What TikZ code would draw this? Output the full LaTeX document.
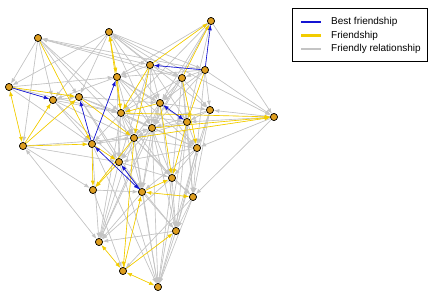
\documentclass[tikz,border=0pt]{standalone}
\usepackage{fontspec}
\setmainfont{Liberation Sans}
\usepackage{xcolor}
\usetikzlibrary{arrows.meta}
\definecolor{bestblue}{HTML}{1414D2}
\definecolor{friendgold}{HTML}{F2CC00}
\definecolor{looseGray}{HTML}{C4C4C4}
\definecolor{pin}{HTML}{DE9E1F}
\tikzset{
  person/.style={circle,fill=pin,draw=black,line width=.6pt,minimum size=7pt,inner sep=0pt},
  tie/.style={line width=.65pt,-{Latex[length=5.5pt,width=4pt]}},
  mutual/.style={line width=.65pt,{Latex[length=5.5pt,width=4pt]}-{Latex[length=5.5pt,width=4pt]}},
  swatch/.style={minimum width=20pt,minimum height=1.6pt,inner sep=0pt,anchor=west},
  legtext/.style={anchor=west,inner sep=0pt,font=\fontsize{10}{12}\selectfont}
}
\begin{document}
\begin{tikzpicture}[x=1pt,y=-1pt]
\useasboundingbox (0,0) rectangle (437,300);
% people
\node[person] (p1) at (38,38) {};
\node[person] (p2) at (109,32) {};
\node[person] (p3) at (211,21) {};
\node[person] (p4) at (150,65) {};
\node[person] (p5) at (205,70) {};
\node[person] (p6) at (9,87) {};
\node[person] (p7) at (117,77) {};
\node[person] (p8) at (182,78) {};
\node[person] (p9) at (53,100) {};
\node[person] (p10) at (79,97) {};
\node[person] (p11) at (160,103) {};
\node[person] (p12) at (210,110) {};
\node[person] (p13) at (121,113) {};
\node[person] (p14) at (274,117) {};
\node[person] (p15) at (187,122) {};
\node[person] (p16) at (152,128) {};
\node[person] (p17) at (134,138) {};
\node[person] (p18) at (23,146) {};
\node[person] (p19) at (92,144) {};
\node[person] (p20) at (197,148) {};
\node[person] (p21) at (119,162) {};
\node[person] (p22) at (172,178) {};
\node[person] (p23) at (93,190) {};
\node[person] (p24) at (142,192) {};
\node[person] (p25) at (193,197) {};
\node[person] (p26) at (176,231) {};
\node[person] (p27) at (99,242) {};
\node[person] (p28) at (123,271) {};
\node[person] (p29) at (158,287) {};

% friendly relationships
\foreach \a/\b in {p1/p6,p1/p18,p1/p9,p1/p10,p1/p13,p1/p17,p8/p1,p5/p1,
  p2/p6,p2/p9,p2/p10,p2/p5,p2/p8,p2/p14,p2/p12,p2/p16,p2/p11,p4/p2,
  p3/p7,p3/p11,p3/p13,p3/p16,p3/p15,p3/p14,
  p4/p7,p4/p11,p4/p16,p4/p8,p4/p15,p4/p21,
  p5/p12,p5/p14,p5/p11,p5/p16,p5/p20,p5/p8,p5/p7,
  p6/p13,p6/p19,p6/p7,
  p7/p11,p7/p17,p7/p16,p7/p21,p7/p9,p7/p15,p7/p20,
  p8/p12,p8/p16,p8/p11,p8/p15,p8/p22,p8/p25,p8/p13,
  p9/p10,p9/p19,p9/p13,p9/p17,p9/p21,
  p10/p13,p10/p21,p10/p16,p10/p11,p10/p24,
  p11/p16,p11/p17,p11/p20,p11/p12,p11/p24,p11/p26,p11/p27,
  p12/p15,p12/p20,p12/p25,p12/p16,p12/p26,
  p13/p17,p13/p16,p13/p21,p13/p19,p13/p24,p13/p22,p13/p27,p13/p15,p13/p20,
  p14/p20,p14/p25,p14/p12,p14/p15,
  p15/p16,p15/p20,p15/p25,p15/p17,p15/p26,p15/p29,
  p16/p17,p16/p20,p16/p21,p16/p22,p16/p24,p16/p26,p16/p27,p16/p29,
  p17/p19,p17/p21,p17/p22,p17/p24,p17/p27,p17/p29,p17/p20,p17/p25,
  p18/p23,p18/p21,p18/p17,
  p19/p16,p19/p27,p19/p29,
  p20/p22,p20/p25,p20/p26,p20/p24,p20/p21,p20/p29,
  p21/p27,p21/p29,p21/p26,p21/p22,
  p22/p25,p22/p26,p22/p29,p22/p27,
  p23/p24,p23/p28,
  p24/p27,p24/p29,p24/p26,
  p25/p26,p25/p29,p25/p28,
  p26/p29,p26/p27}
  \draw[tie,draw=looseGray,fill=looseGray] (\a) -- (\b);
\foreach \a/\b in {p18/p27,p1/p4}
  \draw[mutual,draw=looseGray,fill=looseGray] (\a) -- (\b);

% friendships
\foreach \a/\b in {p4/p3,p8/p3,p1/p19,p6/p10,p18/p9,p18/p10,p18/p19,p13/p2,p7/p13,
  p19/p23,p21/p23,p17/p23,p28/p26,p17/p28,p28/p24,p24/p22,p15/p22,p11/p22,
  p5/p15,p4/p13,p11/p13,p16/p14,p17/p14,p13/p14,p4/p17,p10/p17,p8/p20,p19/p21}
  \draw[tie,draw=friendgold,fill=friendgold] (\a) -- (\b);
\foreach \a/\b in {p6/p18,p2/p7,p27/p28,p28/p29,p25/p24}
  \draw[mutual,draw=friendgold,fill=friendgold] (\a) -- (\b);

% best friendships
\foreach \a/\b in {p6/p9,p19/p10,p19/p7,p5/p3,p5/p4,p24/p21}
  \draw[tie,draw=bestblue,fill=bestblue] (\a) -- (\b);
\foreach \a/\b in {p11/p15,p19/p24}
  \draw[mutual,draw=bestblue,fill=bestblue] (\a) -- (\b);

% people again, on top of the ties
\foreach \p in {p1,p2,p3,p4,p5,p6,p7,p8,p9,p10,p11,p12,p13,p14,p15,p16,p17,p18,p19,p20,p21,p22,p23,p24,p25,p26,p27,p28,p29}
  \node[person] at (\p) {};

% legend
\node[draw=black,line width=.6pt,minimum width=135pt,minimum height=53pt,inner sep=0pt,anchor=north west] (legend) at (292,8) {};
\node[swatch,fill=bestblue] (swbest) at (301,22) {};
\node[swatch,fill=friendgold,minimum height=2.2pt] (swfriend) at (301,35.5) {};
\node[swatch,fill=looseGray] (swloose) at (301,49) {};
\node[legtext] (legbest) at (331,22) {Best friendship};
\node[legtext] (legfriend) at (331,35.5) {Friendship};
\node[legtext] (legloose) at (331,49) {Friendly relationship};
\end{tikzpicture}
\end{document}
